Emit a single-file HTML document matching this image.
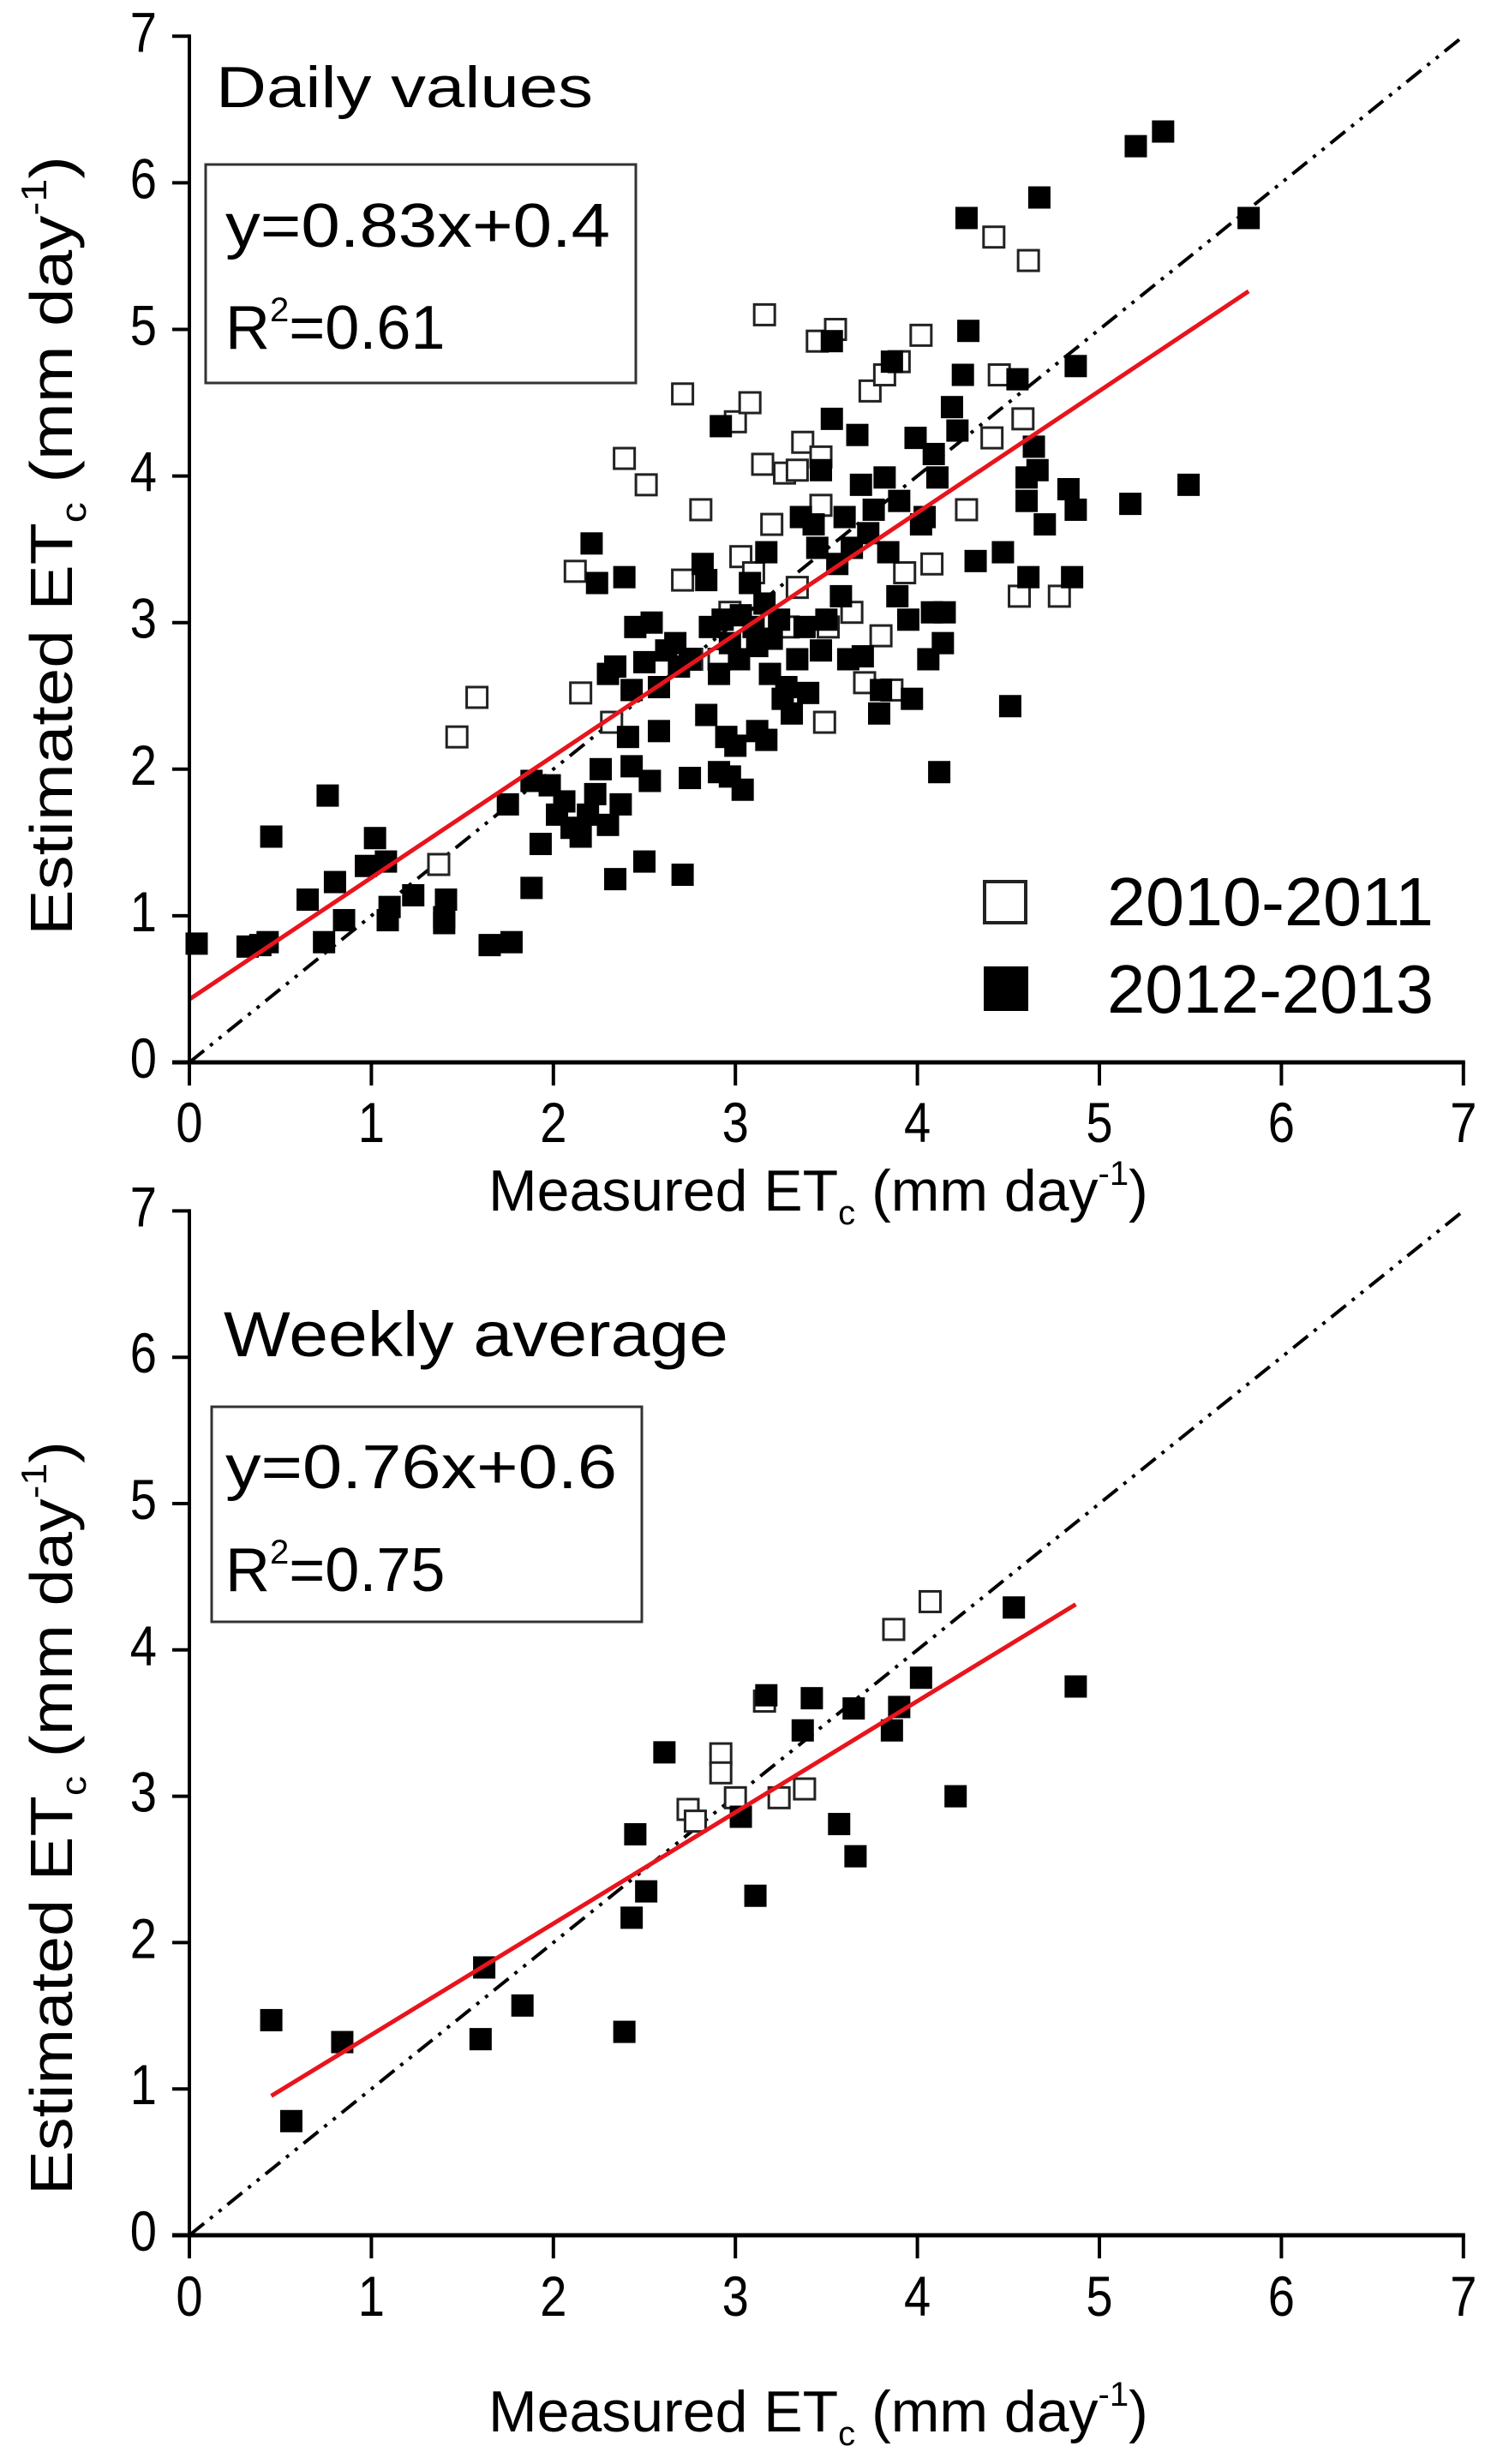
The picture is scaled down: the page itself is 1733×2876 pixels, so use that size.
<!DOCTYPE html>
<html><head><meta charset="utf-8"><style>
html,body{margin:0;padding:0;background:#fff;}
svg{display:block;font-family:"Liberation Sans",Arial,sans-serif;}
</style></head><body>
<svg id="chart" width="1733" height="2876" viewBox="0 0 1733 2876" xmlns="http://www.w3.org/2000/svg">
<rect width="1733" height="2876" fill="#fff"/>
<g id="topPanel"></g>
<g id="botPanel"></g>
</svg>
<script>
// ---- data ----
const ticks = [0,1,2,3,4,5,6,7];
const tickLabels = ["0","1","2","3","4","5","6","7"];
// Daily values, 2012-2013 (filled)
const dailyFilledX = [0.04,0.32,0.39,0.43,0.45,0.65,0.74,0.76,0.80,0.85,0.97,1.02,1.08,1.09,1.10,1.23,1.40,1.41,1.40,1.65,1.77,1.75,1.88,1.88,1.93,1.98,2.02,2.06,2.10,2.15,2.19,2.23,2.26,2.30,2.34,2.37,2.41,2.43,2.50,2.53,2.58,2.71,2.75,2.84,2.91,2.95,2.97,3.00,3.04,3.12,3.17,
2.21,2.24,2.39,2.45,2.30,2.34,2.43,2.50,2.54,2.58,2.62,2.67,2.69,2.75,2.82,2.84,2.86,2.91,2.93,2.92,2.97,3.02,3.03,3.08,3.10,3.12,3.16,3.17,3.19,3.20,3.24,3.26,3.28,3.31,3.34,3.36,3.38,3.40,3.43,3.45,3.47,3.50,3.53,3.53,3.56,3.58,3.60,3.62,3.64,3.67,3.69,3.70,3.73,3.76,3.79,3.80,3.82,3.84,3.86,3.89,3.90,3.95,3.97,3.99,4.02,4.04,4.06,4.08,4.09,4.11,4.12,4.15,4.14,4.19,4.22,4.25,4.28,4.27,4.32,4.47,4.51,4.55,4.60,4.60,4.61,4.64,4.66,4.67,4.70,4.83,4.85,4.87,4.87,5.17,5.20,5.35,5.49,5.82,3.47];
const dailyFilledY = [0.81,0.79,0.80,0.82,1.54,1.11,0.82,1.82,1.23,0.97,1.34,1.53,1.37,0.97,1.06,1.14,0.95,1.11,0.99,0.80,0.82,1.76,1.19,1.92,1.49,1.89,1.69,1.78,1.60,1.54,1.69,1.83,2.00,1.62,1.25,1.76,2.22,2.02,1.37,1.92,2.26,1.28,1.94,2.37,1.98,2.22,1.95,2.16,1.86,2.26,2.20,
3.54,3.27,3.31,2.97,2.65,2.70,2.54,2.73,3.00,2.56,2.81,2.86,2.70,2.75,3.40,3.29,2.97,2.65,3.02,4.34,2.86,2.75,3.05,3.27,2.97,2.84,3.13,3.48,2.65,2.89,3.02,2.48,2.56,2.38,2.75,3.72,2.97,2.52,3.67,3.51,2.81,3.02,4.92,4.39,3.40,3.18,3.72,2.75,3.51,4.28,3.94,2.77,3.61,3.77,2.38,2.54,3.99,3.48,4.78,3.18,3.83,3.02,2.48,4.26,3.67,3.72,2.75,3.07,4.15,3.99,1.98,3.07,2.86,4.47,4.31,4.69,4.99,5.76,3.42,3.48,2.43,4.66,3.99,3.83,3.31,4.20,4.04,5.90,3.67,3.91,3.31,4.75,3.77,3.81,6.25,6.35,3.94,5.76,4.04];
// Daily values, 2010-2011 (open)
const dailyOpenX = [1.58,1.47,1.37,2.12,2.15,2.39,2.51,2.32,2.71,2.81,2.71,3.00,3.08,3.16,3.15,3.27,3.37,3.45,3.55,3.47,3.49,3.74,3.82,3.90,4.02,3.93,3.86,4.27,4.42,4.61,4.45,4.41,4.58,4.56,4.78,2.97,3.03,3.10,3.20,3.29,3.34,3.51,3.64,3.71,2.91,2.76,3.80,4.08,3.34,3.47];
const dailyOpenY = [2.49,2.22,1.35,3.35,2.52,4.12,3.94,2.32,4.56,3.77,3.29,4.37,4.50,5.10,4.08,4.02,4.23,4.92,5.00,3.80,2.32,4.58,4.69,4.78,4.96,3.34,2.54,3.77,5.63,5.47,4.69,4.26,4.39,3.18,3.18,3.07,3.45,3.34,3.67,2.97,3.24,2.97,3.07,2.59,2.75,2.75,2.91,3.40,4.04,4.13];
// Weekly average
const weeklyFilledX = [0.45,0.56,0.84,1.60,1.62,1.83,2.39,2.43,2.45,2.51,2.61,3.03,3.11,3.17,3.37,3.42,3.57,3.65,3.66,3.86,3.90,4.02,4.21,4.53,4.87];
const weeklyFilledY = [1.47,0.78,1.32,1.34,1.83,1.57,1.39,2.17,2.74,2.35,3.30,2.86,2.32,3.69,3.45,3.67,2.81,3.60,2.59,3.45,3.61,3.81,3.00,4.29,3.75];
const weeklyOpenX = [2.74,2.78,2.92,2.92,3.00,3.24,3.38,3.16,3.87,4.07];
const weeklyOpenY = [2.91,2.83,3.29,3.16,2.99,2.99,3.05,3.65,4.14,4.33];
// fits: [slope, intercept, xStart, xEnd]
const dailyFit = [0.83, 0.43, 0, 5.82];
const weeklyFit = [0.76, 0.61, 0.45, 4.87];

const NS = "http://www.w3.org/2000/svg";
function mk(tag, attrs, parent){const e=document.createElementNS(NS,tag);for(const k in attrs)e.setAttribute(k,attrs[k]);parent.appendChild(e);return e;}

function panel(g, o){
  const X = v => 221 + 212.4*v;
  const Y = v => o.y0 - o.unit*v;
  const one = mk('line',{x1:X(0),y1:Y(0),x2:X(7),y2:Y(7),stroke:'#000','stroke-width':4,'stroke-dasharray':'22 9 4 9 4 9'},g);
  
  
  o.openX.forEach((x,i)=>{
    const r = mk('rect',{x:X(x)-12,y:Y(o.openY[i])-12,width:24,height:24,fill:'#fff',stroke:'#222','stroke-width':3},g);
    
    
  });
  o.filledX.forEach((x,i)=>{
    const r = mk('rect',{x:X(x)-13,y:Y(o.filledY[i])-13,width:26,height:26,fill:'#000'},g);
    
    
  });
  const f=o.fit;
  const fl = mk('line',{x1:X(f[2]),y1:Y(f[0]*f[2]+f[1]),x2:X(f[3]),y2:Y(f[0]*f[3]+f[1]),stroke:'#e8141c','stroke-width':5},g);
  
  
  const ya = mk('line',{x1:X(0),y1:Y(7)-2,x2:X(0),y2:Y(0)+2,stroke:'#000','stroke-width':4},g);
  
  
  const xa = mk('line',{x1:X(0)-20,y1:Y(0),x2:X(7)+2,y2:Y(0),stroke:'#000','stroke-width':5},g);
  
  
  ticks.forEach((t,i)=>{
    const yt = mk('line',{x1:X(0)-20,y1:Y(t),x2:X(0),y2:Y(t),stroke:'#000','stroke-width':4},g);
    
    
    const xt = mk('line',{x1:X(t),y1:Y(0),x2:X(t),y2:Y(0)+27,stroke:'#000','stroke-width':4},g);
    
    
    const yl = mk('text',{x:183,y:Y(t)+18,'font-size':66,'text-anchor':'end',transform:'translate(183 0) scale(0.85 1) translate(-183 0)'},g);
    yl.textContent = tickLabels[i];
    
    
    const xl = mk('text',{x:X(t),y:o.xlabY,'font-size':66,'text-anchor':'middle',transform:'translate('+X(t)+' 0) scale(0.85 1) translate('+(-X(t))+' 0)'},g);
    xl.textContent = tickLabels[i];
    
    
  });
}

const topG = document.getElementById('topPanel');
const botG = document.getElementById('botPanel');
panel(topG,{y0:1240,unit:171.1,xlabY:1333,openX:dailyOpenX,openY:dailyOpenY,filledX:dailyFilledX,filledY:dailyFilledY,fit:dailyFit});
panel(botG,{y0:2609,unit:170.8,xlabY:2703,openX:weeklyOpenX,openY:weeklyOpenY,filledX:weeklyFilledX,filledY:weeklyFilledY,fit:weeklyFit});
</script>
<svg style="position:absolute;left:0;top:0" width="1733" height="2876" viewBox="0 0 1733 2876" xmlns="http://www.w3.org/2000/svg" font-family="Liberation Sans, Arial, sans-serif">
  <text x="252" y="125" font-size="68" textLength="440" lengthAdjust="spacingAndGlyphs">Daily values</text>
  <rect x="240" y="192" width="502" height="255" fill="none" stroke="#333" stroke-width="3"/>
  <text x="263" y="288" font-size="72" textLength="449" lengthAdjust="spacingAndGlyphs">y=0.83x+0.4</text>
  <text x="263" y="407" font-size="72">R<tspan font-size="40" dy="-32">2</tspan><tspan dy="32">=0.61</tspan></text>
  <g>
    <rect x="1149" y="1029" width="48" height="48" fill="#fff" stroke="#222" stroke-width="4"/>
    <text x="1292" y="1080" font-size="80" textLength="381" lengthAdjust="spacingAndGlyphs">2010-2011</text>
    <rect x="1148" y="1128" width="52" height="52" fill="#000"/>
    <text x="1292" y="1182" font-size="80" textLength="381" lengthAdjust="spacingAndGlyphs">2012-2013</text>
  </g>
  <text x="570" y="1413" font-size="68">Measured ET<tspan font-size="40" dy="16">c</tspan><tspan dy="-16"> (mm day</tspan><tspan font-size="40" dy="-30">-1</tspan><tspan dy="30">)</tspan></text>
  <text transform="translate(84 637) rotate(-90)" text-anchor="middle" font-size="70" textLength="910" lengthAdjust="spacingAndGlyphs">Estimated ET<tspan font-size="42" dy="16">c</tspan><tspan dy="-16"> (mm day</tspan><tspan font-size="42" dy="-30">-1</tspan><tspan dy="30">)</tspan></text>
  <text x="261" y="1583" font-size="74" textLength="589" lengthAdjust="spacingAndGlyphs">Weekly average</text>
  <rect x="247" y="1642" width="502" height="251" fill="none" stroke="#333" stroke-width="3"/>
  <text x="263" y="1737" font-size="72" textLength="457" lengthAdjust="spacingAndGlyphs">y=0.76x+0.6</text>
  <text x="263" y="1857" font-size="72">R<tspan font-size="40" dy="-32">2</tspan><tspan dy="32">=0.75</tspan></text>
  <text x="570" y="2838" font-size="68">Measured ET<tspan font-size="40" dy="16">c</tspan><tspan dy="-16"> (mm day</tspan><tspan font-size="40" dy="-30">-1</tspan><tspan dy="30">)</tspan></text>
  <text transform="translate(84 2122) rotate(-90)" text-anchor="middle" font-size="70" textLength="880" lengthAdjust="spacingAndGlyphs">Estimated ET<tspan font-size="42" dy="16">c</tspan><tspan dy="-16"> (mm day</tspan><tspan font-size="42" dy="-30">-1</tspan><tspan dy="30">)</tspan></text>
</svg>
</body></html>
